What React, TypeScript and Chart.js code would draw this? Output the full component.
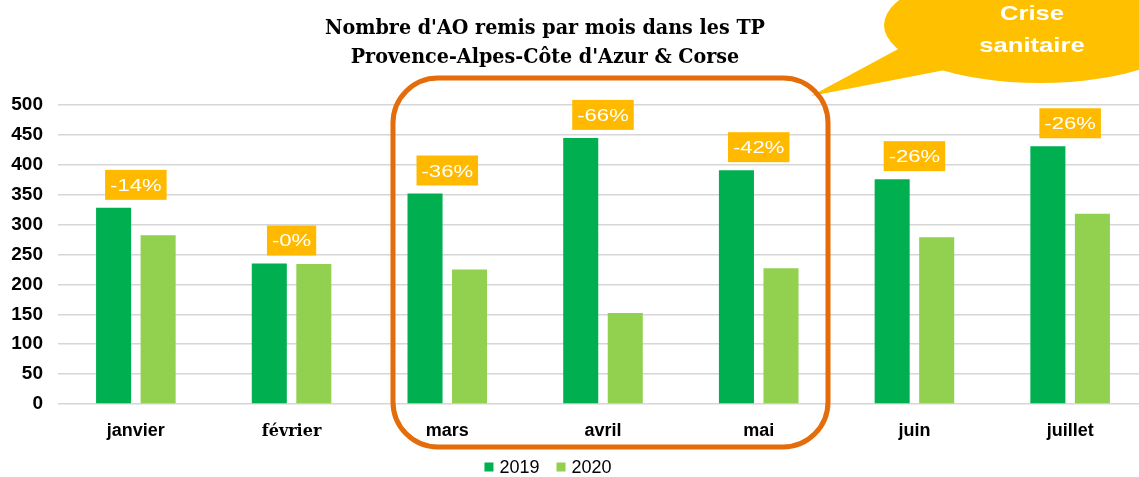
import React, { useEffect, useRef } from "react";
import { Chart, registerables } from "chart.js";

Chart.register(...registerables);

const categories = ["janvier", "février", "mars", "avril", "mai", "juin", "juillet"];
const values2019 = [328, 235, 352, 445, 391, 376, 431];
const values2020 = [282, 234, 225, 152, 227, 279, 318];
const changeLabels = ["-14%", "-0%", "-36%", "-66%", "-42%", "-26%", "-26%"];
const seriesNames = ["2019", "2020"];
const seriesColors = ["#00B050", "#92D050"];
const yMin = 0;
const yMax = 500;
const yStep = 50;
const titleLines = ["Nombre d'AO remis par mois dans les TP", "Provence-Alpes-Côte d'Azur & Corse"];
const calloutLines = ["Crise", "sanitaire"];

const W = 1148;
const H = 477;

function stretchedText(ctx: any, text: string, x: number, y: number, sx: number) {
  ctx.save();
  ctx.translate(x, y);
  ctx.scale(sx, 1);
  ctx.fillText(text, 0, 0);
  ctx.restore();
}

const overlayPlugin = {
  id: "overlay",
  afterDatasetsDraw(chart: any) {
    const ctx = chart.ctx;
    const xs = chart.scales.x;
    const meta0 = chart.getDatasetMeta(0);
    ctx.save();
    ctx.font = "16px 'Liberation Sans'";
    ctx.textAlign = "center";
    ctx.textBaseline = "alphabetic";
    const sx = 1.38;
    changeLabels.forEach((lab, i) => {
      const bar = meta0.data[i];
      const cx = xs.getPixelForValue(i);
      const tw = ctx.measureText(lab).width * sx;
      const bw = tw + 10;
      const bh = 30;
      const bottom = bar.y - 8;
      ctx.fillStyle = "#FFBA00";
      ctx.fillRect(cx - bw / 2, bottom - bh, bw, bh);
      ctx.fillStyle = "#FFFFFF";
      stretchedText(ctx, lab, cx, bottom - 9, sx);
    });
    ctx.restore();
  },
  afterDraw(chart: any) {
    const ctx = chart.ctx;
    ctx.save();
    // callout bubble
    ctx.fillStyle = "#FFC000";
    ctx.beginPath();
    ctx.ellipse(1040, 25, 156, 58, 0, 0, Math.PI * 2);
    ctx.fill();
    ctx.beginPath();
    ctx.moveTo(900, 48);
    ctx.lineTo(811, 96);
    ctx.lineTo(945, 70);
    ctx.closePath();
    ctx.fill();
    ctx.fillStyle = "#FFFFFF";
    ctx.font = "bold 21px 'Liberation Sans'";
    ctx.textAlign = "center";
    ctx.textBaseline = "alphabetic";
    stretchedText(ctx, calloutLines[0], 1032, 20, 1.22);
    stretchedText(ctx, calloutLines[1], 1032, 52, 1.22);

    // orange rounded frame
    ctx.strokeStyle = "#E46C0A";
    ctx.lineWidth = 5;
    ctx.beginPath();
    (ctx as any).roundRect(393, 78, 435, 369, 45);
    ctx.stroke();

    // title
    ctx.fillStyle = "#000000";
    ctx.font = "bold 20px 'DejaVu Serif'";
    const w1 = ctx.measureText(titleLines[0]).width;
    const tsx = 440 / w1;
    ctx.textAlign = "center";
    ctx.textBaseline = "alphabetic";
    stretchedText(ctx, titleLines[0], 545, 34, tsx);
    stretchedText(ctx, titleLines[1], 545, 62.5, tsx);

    // legend
    ctx.font = "18px 'Liberation Sans'";
    ctx.textAlign = "left";
    ctx.textBaseline = "middle";
    const sq = 9;
    const gap = 6;
    const spacing = 17;
    const widths = seriesNames.map((n) => ctx.measureText(n).width);
    const total = widths.reduce((a, w) => a + sq + gap + w, 0) + spacing * (seriesNames.length - 1);
    let x = 548 - total / 2;
    const ly = 467;
    seriesNames.forEach((n, i) => {
      ctx.fillStyle = chart.data.datasets[i].backgroundColor;
      ctx.fillRect(x, ly - sq / 2, sq, sq);
      x += sq + gap;
      ctx.fillStyle = "#000000";
      ctx.fillText(n, x, ly + 1);
      x += widths[i] + spacing;
    });
    ctx.restore();
  },
};

export default function App() {
  const ref = useRef<HTMLCanvasElement | null>(null);
  useEffect(() => {
    if (!ref.current) return;
    const chart = new Chart(ref.current, {
      type: "bar",
      data: {
        labels: categories,
        datasets: [
          {
            label: seriesNames[0],
            data: values2019,
            backgroundColor: seriesColors[0],
            categoryPercentage: 0.572,
            barPercentage: 0.787,
          },
          {
            label: seriesNames[1],
            data: values2020,
            backgroundColor: seriesColors[1],
            categoryPercentage: 0.572,
            barPercentage: 0.787,
          },
        ],
      },
      options: {
        responsive: false,
        animation: false,
        layout: { padding: { top: 105, bottom: 0, left: 0, right: 0 } },
        plugins: {
          legend: { display: false },
          title: { display: false },
          tooltip: { enabled: false },
        },
        scales: {
          x: {
            grid: { display: false, drawTicks: false },
            border: { display: false },
            ticks: {
              color: "#000000",
              padding: 16,
              maxRotation: 0,
              autoSkip: false,
              font: (c: any) =>
                c.index === 1
                  ? { family: "'DejaVu Serif'", weight: "bold", size: 16, lineHeight: 1.42 }
                  : { family: "'Liberation Sans'", weight: "bold", size: 18 },
            },
            afterFit: (s: any) => {
              s.height = H - 404;
            },
          },
          y: {
            min: yMin,
            max: yMax,
            grid: { color: "#D6D6D6", lineWidth: 1.5, drawTicks: false },
            border: { display: false },
            ticks: {
              stepSize: yStep,
              color: "#000000",
              padding: 15,
              font: { family: "'Liberation Sans'", weight: "bold", size: 19 },
            },
            afterFit: (s: any) => {
              s.width = 58;
            },
          },
        },
      },
      plugins: [overlayPlugin],
    });
    return () => chart.destroy();
  }, []);
  return (
    <div style={{ position: "absolute", left: 0, top: 0, width: 1139, height: H, overflow: "hidden", background: "#fff" }}>
      <canvas ref={ref} width={W} height={H} style={{ display: "block", width: W, height: H }} />
    </div>
  );
}
